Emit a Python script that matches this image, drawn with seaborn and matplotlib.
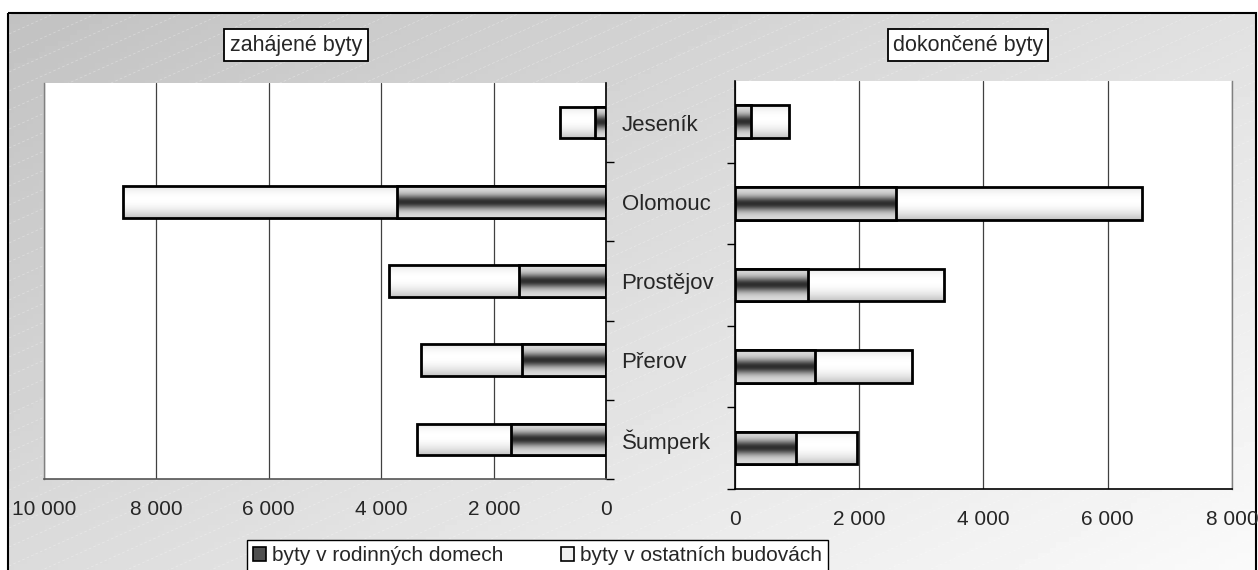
import numpy as np
import pandas as pd
import matplotlib.pyplot as plt
import seaborn as sns
from matplotlib.patches import Rectangle, Patch
from matplotlib.ticker import FuncFormatter, FixedLocator

sns.set_style("white")
plt.rcParams['font.family'] = ['Liberation Sans', 'DejaVu Sans']
plt.rcParams['font.size'] = 15

# ------------------------------
# DATA
# ------------------------------
regions = ["Jeseník", "Olomouc", "Prostějov", "Přerov", "Šumperk"]
zahajene_rd = [208, 3724, 1559, 1506, 1690]
zahajene_ost = [616, 4868, 2301, 1785, 1678]
dokoncene_rd = [263, 2590, 1185, 1298, 981]
dokoncene_ost = [611, 3957, 2182, 1555, 981]
series_labels = ["byty v rodinných domech", "byty v ostatních budovách"]
panel_titles = ["zahájené byty", "dokončené byty"]
left_ticks = [0, 2000, 4000, 6000, 8000, 10000]
right_ticks = [0, 2000, 4000, 6000, 8000]

W, H = 1258, 570


def dark_profile(t):
    return 0.86 - 0.68 * np.exp(-((t - 0.5) / 0.22) ** 2)


def light_profile(t):
    return 1.0 - 0.24 * ((t - 0.4) / 0.6) ** 2


def shade(ax, patches, profile, z):
    # gradient fill clipped to each bar
    grad = profile(np.linspace(0, 1, 80))[:, None]
    for p in patches:
        x0, y0 = p.get_x(), p.get_y()
        w, h = p.get_width(), p.get_height()
        im = ax.imshow(grad, cmap='gray', vmin=0, vmax=1, aspect='auto',
                       extent=(x0, x0 + w, y0 + h, y0), origin='upper',
                       zorder=z, interpolation='bilinear')
        im.set_clip_path(p)
        p.set_facecolor('none')
        p.set_zorder(z + 0.05)


def thousands(v, pos):
    return f"{int(round(v)):,}".replace(",", " ")


def draw_panel(ax, rd, ost):
    df = pd.DataFrame({"region": regions, "rd": rd,
                       "total": np.array(rd) + np.array(ost)})
    sns.barplot(data=df, x="total", y="region", orient="h", ax=ax,
                color="white", edgecolor="black", linewidth=2, width=0.4)
    sns.barplot(data=df, x="rd", y="region", orient="h", ax=ax,
                color="gray", edgecolor="black", linewidth=2, width=0.4)
    shade(ax, ax.containers[0].patches, light_profile, 2.0)
    shade(ax, ax.containers[1].patches, dark_profile, 2.2)
    ax.set_ylim(4.5, -0.5)
    ax.set_xlabel("")
    ax.set_ylabel("")
    ax.set_facecolor("white")
    ax.xaxis.set_major_formatter(FuncFormatter(thousands))
    ax.tick_params(axis='x', length=0, pad=15, labelsize=15)
    ax.xaxis.grid(True, color='#404040', lw=0.9)
    ax.set_axisbelow(True)
    ax.yaxis.set_minor_locator(FixedLocator([0.5, 1.5, 2.5, 3.5, 4.5]))
    ax.spines['top'].set_visible(False)


fig = plt.figure(figsize=(W / 100, H / 100), dpi=100)

# background with frame, gradient and faint diagonal lines
bg = fig.add_axes([0, 0, 1, 1], zorder=-10)
bg.set_xlim(0, W)
bg.set_ylim(H, 0)
bg.axis('off')
xx, yy = np.meshgrid(np.linspace(0, 1, 200), np.linspace(0, 1, 100))
g = 0.76 + 0.22 * (0.55 * xx + 0.45 * yy)
frame = Rectangle((8, 13), 1248, 600, fc='none', ec='black', lw=1.5, zorder=3)
bg.add_patch(frame)
im = bg.imshow(g, cmap='gray', vmin=0, vmax=1, extent=(8, 1256, H, 13),
               aspect='auto', zorder=1)
im.set_clip_path(frame)
for c in np.arange(0, 1400, 19):
    ln, = bg.plot([0, W], [c, c - 0.45 * W], color='white', lw=0.5,
                  alpha=0.35, ls=(0, (4, 3)), zorder=2)
    ln.set_clip_path(frame)

# left panel: zahajene byty (reversed axis)
axl = fig.add_axes([43.7 / W, 1 - 479 / H, 562.6 / W, 396 / H])
draw_panel(axl, zahajene_rd, zahajene_ost)
axl.set_xlim(10000, 0)
axl.set_xticks(left_ticks)
axl.set_yticks(range(len(regions)))
axl.set_yticklabels(regions)
axl.yaxis.tick_right()
axl.tick_params(axis='y', which='major', length=0, pad=11, labelsize=16)
axl.tick_params(axis='y', which='minor', length=6, width=1, direction='out',
                right=True, left=False, color='black')
axl.spines['left'].set_color('#808080')
axl.spines['left'].set_linewidth(1.0)
axl.spines['right'].set_color('black')
axl.spines['right'].set_linewidth(1.2)
axl.spines['bottom'].set_color('#555555')
axl.spines['bottom'].set_linewidth(1.2)

# right panel: dokoncene byty
axr = fig.add_axes([734.7 / W, 1 - 488.7 / H, 497.3 / W, 407.7 / H])
draw_panel(axr, dokoncene_rd, dokoncene_ost)
axr.set_xlim(0, 8000)
axr.set_xticks(right_ticks)
axr.set_yticks(range(len(regions)))
axr.set_yticklabels([])
axr.tick_params(axis='y', which='major', length=0)
axr.tick_params(axis='y', which='minor', length=6, width=1, direction='out',
                left=True, right=False, color='black')
axr.spines['right'].set_color('#808080')
axr.spines['right'].set_linewidth(1.0)
axr.spines['left'].set_color('black')
axr.spines['left'].set_linewidth(1.2)
axr.spines['bottom'].set_color('black')
axr.spines['bottom'].set_linewidth(1.2)

# panel titles
box = dict(boxstyle='square,pad=0.25', fc='white', ec='black', lw=1.3)
fig.text(296 / W, 1 - 45 / H, panel_titles[0], ha='center', va='center',
         fontsize=15.5, bbox=box)
fig.text(968 / W, 1 - 45 / H, panel_titles[1], ha='center', va='center',
         fontsize=15.5, bbox=box)

# legend
handles = [Patch(fc='#505050', ec='black', lw=1.2, label=series_labels[0]),
           Patch(fc='#f0f0f0', ec='black', lw=1.2, label=series_labels[1])]
leg = fig.legend(handles=handles, loc='upper left',
                 bbox_to_anchor=(247 / W, 1 - 540 / H), ncol=2, frameon=True,
                 fancybox=False, edgecolor='black', framealpha=1,
                 handlelength=0.63, handleheight=0.63, handletextpad=0.25,
                 columnspacing=2.8, borderaxespad=0, borderpad=0.3,
                 fontsize=15)
leg.get_frame().set_linewidth(1.0)

fig.savefig("out.png", dpi=100)
plt.close(fig)
